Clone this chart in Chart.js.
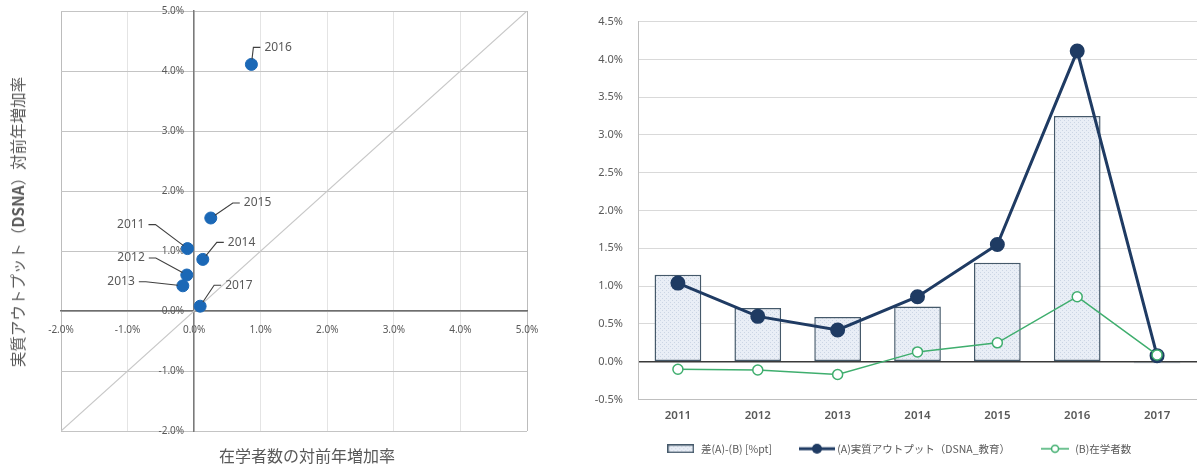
<!DOCTYPE html>
<html lang="ja">
<head>
<meta charset="UTF-8">
<title>在学者数と実質アウトプットの対前年増加率</title>
<script src="https://cdn.jsdelivr.net/npm/chart.js@4.4.1/dist/chart.umd.min.js"></script>
<style>
  body { margin: 0; background: #fff; width: 1197px; height: 466px; position: relative; overflow: hidden;
         font-family: "Noto Sans CJK JP", "Noto Sans", sans-serif; }
  .box { position: absolute; }
  .ttl { position: absolute; color: #595959; font-size: 15.5px; white-space: nowrap; transform: translate(-50%, -50%); }
</style>
</head>
<body>
<div class="box" style="left:0;top:0;width:560px;height:466px"><canvas id="scatter"></canvas></div>
<div class="ttl" style="left:17px;top:222px;transform:translate(-50%,-50%) rotate(-90deg)">実質アウトプット（<b>DSNA</b>）対前年増加率</div>
<div class="ttl" style="left:307px;top:455px;font-size:16px">在学者数の対前年増加率</div>
<div class="box" style="left:560px;top:0;width:637px;height:466px"><canvas id="combo"></canvas></div>

<script>
// growth rates, %
const years = ['2011', '2012', '2013', '2014', '2015', '2016', '2017'];
const outputGrowth = [1.04, 0.60, 0.42, 0.86, 1.55, 4.11, 0.08];    // (A) DSNA 教育
const enrollGrowth = [-0.10, -0.11, -0.17, 0.13, 0.25, 0.86, 0.09]; // (B) 在学者数
const gapPt = [1.15, 0.71, 0.59, 0.73, 1.31, 3.25, -0.02];          // (A)-(B), %pt
const scatterTicks = [-2, -1, 0, 1, 2, 3, 4, 5];
const comboTicks = [-0.5, 0, 0.5, 1, 1.5, 2, 2.5, 3, 3.5, 4, 4.5];
const diagonal = [-2, 5];

const pct = v => v.toFixed(1) + '%';
const grey = '#595959';
const font = '"Noto Sans", "Noto Sans CJK JP", sans-serif';

// where each year label sits relative to its point
const labelPos = {
  '2011': { dx: -43, dy: -24 },
  '2012': { dx: -42, dy: -17 },
  '2013': { dx: -48, dy: -4 },
  '2014': { dx: 25, dy: -17 },
  '2015': { dx: 33, dy: -15 },
  '2016': { dx: 13, dy: -17 },
  '2017': { dx: 25, dy: -21 }
};

const yearLabels = {
  id: 'yearLabels',
  afterDatasetsDraw(chart) {
    const meta = chart.getDatasetMeta(1);
    const ctx = chart.ctx;
    ctx.save();
    ctx.font = '12px ' + font;
    ctx.fillStyle = grey;
    ctx.strokeStyle = '#3f3f3f';
    ctx.lineWidth = 1.1;
    ctx.textBaseline = 'middle';
    meta.data.forEach((pt, i) => {
      const o = labelPos[years[i]];
      const tx = pt.x + o.dx, ty = pt.y + o.dy;
      const dir = o.dx < 0 ? -1 : 1;
      const sx = tx - dir * 4;
      const kx = sx - dir * 7;
      const ang = Math.atan2(ty - pt.y, kx - pt.x);
      ctx.beginPath();
      ctx.moveTo(sx, ty);
      ctx.lineTo(kx, ty);
      ctx.lineTo(pt.x + Math.cos(ang) * 5, pt.y + Math.sin(ang) * 5);
      ctx.stroke();
      ctx.textAlign = dir < 0 ? 'right' : 'left';
      ctx.fillText(years[i], tx, ty);
    });
    ctx.restore();
  }
};

new Chart(document.getElementById('scatter'), {
  type: 'scatter',
  data: {
    datasets: [
      {
        data: diagonal.map(v => ({ x: v, y: v })),
        showLine: true,
        borderColor: '#c8c8c8',
        borderWidth: 1.2,
        pointRadius: 0,
        order: 2
      },
      {
        data: years.map((y, i) => ({ x: enrollGrowth[i], y: outputGrowth[i] })),
        backgroundColor: '#1b68b6',
        borderColor: '#1b68b6',
        pointRadius: 6,
        order: 1
      }
    ]
  },
  options: {
    responsive: true,
    maintainAspectRatio: false,
    animation: false,
    layout: { autoPadding: false, padding: { left: 61, top: 11, right: 33, bottom: 35 } },
    plugins: { legend: { display: false }, tooltip: { enabled: false } },
    scales: {
      x: {
        type: 'linear', min: -2, max: 5, position: { y: 0 },
        afterBuildTicks: s => { s.ticks = scatterTicks.map(v => ({ value: v })); },
        ticks: { callback: pct, color: grey, font: { family: font, size: 10 }, padding: 13, maxRotation: 0 },
        grid: {
          drawTicks: false,
          color: c => (c.tick && (c.tick.value === -2 || c.tick.value === 5)) ? '#bcbcbc' : '#e4e4e4'
        },
        border: { color: '#6e6e6e', width: 1.5 }
      },
      y: {
        type: 'linear', min: -2, max: 5, position: { x: 0 },
        afterBuildTicks: s => { s.ticks = scatterTicks.map(v => ({ value: v })); },
        // labels sit left of the zero axis, keep a gap from the line
        ticks: { callback: v => pct(v) + '\u2002\u2002', color: grey, font: { family: font, size: 10 } },
        grid: { drawTicks: false, color: '#c4c4c4' },
        border: { color: '#7a7a7a', width: 1.5 }
      }
    }
  },
  plugins: [yearLabels]
});

// light dotted fill used for the gap bars
function dotFill(g) {
  const t = document.createElement('canvas');
  t.width = 4; t.height = 4;
  const c = t.getContext('2d');
  c.fillStyle = '#e9eef6';
  c.fillRect(0, 0, 4, 4);
  c.fillStyle = '#cbd5e4';
  c.fillRect(0, 0, 1, 1);
  c.fillRect(2, 2, 1, 1);
  return g.createPattern(t, 'repeat');
}

function icon(w, h, draw) {
  const c = document.createElement('canvas');
  c.width = w; c.height = h;
  draw(c.getContext('2d'), w, h);
  return c;
}

const barEdge = '#45596a', navy = '#1f3b63', green = '#3fae6e';

const legendIcons = [
  icon(27, 9, (g, w, h) => {
    g.fillStyle = dotFill(g);
    g.fillRect(1, 1, w - 2, h - 2);
    g.strokeStyle = barEdge; g.lineWidth = 1.5;
    g.strokeRect(0.75, 0.75, w - 1.5, h - 1.5);
  }),
  icon(36, 12, (g, w, h) => {
    g.strokeStyle = navy; g.lineWidth = 3;
    g.beginPath(); g.moveTo(0, h / 2); g.lineTo(w, h / 2); g.stroke();
    g.fillStyle = navy;
    g.beginPath(); g.arc(w / 2, h / 2, 5, 0, Math.PI * 2); g.fill();
  }),
  icon(28, 10, (g, w, h) => {
    g.strokeStyle = green; g.lineWidth = 1.5;
    g.beginPath(); g.moveTo(0, h / 2); g.lineTo(w, h / 2); g.stroke();
    g.fillStyle = '#fff';
    g.beginPath(); g.arc(w / 2, h / 2, 3.5, 0, Math.PI * 2); g.fill(); g.stroke();
  })
];

// nudge the legend row right and up under the plot
const legendShift = {
  id: 'legendShift',
  afterLayout(chart) {
    const lg = chart.legend;
    lg.left += 20; lg.right += 20;
    lg.top -= 6; lg.bottom -= 6;
  }
};

const comboCanvas = document.getElementById('combo');

new Chart(comboCanvas, {
  data: {
    labels: years,
    datasets: [
      {
        type: 'bar',
        label: '差(A)-(B) [%pt]',
        data: gapPt,
        backgroundColor: dotFill(comboCanvas.getContext('2d')),
        borderColor: barEdge,
        borderWidth: 1.5,
        borderSkipped: false,
        barPercentage: 0.585,
        categoryPercentage: 1,
        order: 3
      },
      {
        type: 'line',
        label: '(A)実質アウトプット（DSNA_教育）',
        data: outputGrowth,
        borderColor: navy,
        backgroundColor: navy,
        borderWidth: 3,
        pointRadius: 6,
        tension: 0,
        order: 2
      },
      {
        type: 'line',
        label: '(B)在学者数',
        data: enrollGrowth,
        borderColor: green,
        backgroundColor: '#fff',
        borderWidth: 1.5,
        pointRadius: 5,
        pointBorderWidth: 1.5,
        tension: 0,
        order: 1
      }
    ]
  },
  options: {
    responsive: true,
    maintainAspectRatio: false,
    animation: false,
    layout: { autoPadding: false, padding: { left: 0, top: 17, right: 0, bottom: -4 } },
    plugins: {
      tooltip: { enabled: false },
      legend: {
        position: 'bottom',
        labels: {
          usePointStyle: true,
          pointStyleWidth: 30,
          padding: 30,
          color: grey,
          font: { family: '"Noto Sans CJK JP", sans-serif', size: 10.5 },
          generateLabels: chart => chart.data.datasets.map((ds, i) => ({
            text: ds.label,
            pointStyle: legendIcons[i],
            fillStyle: 'transparent',
            strokeStyle: 'transparent',
            lineWidth: 0,
            fontColor: grey,
            hidden: false,
            datasetIndex: i
          }))
        }
      }
    },
    scales: {
      x: {
        grid: { display: false },
        border: { color: '#bfbfbf', width: 1 },
        ticks: { color: grey, font: { family: font, size: 11.5, weight: '600' }, padding: 1 },
        afterFit: s => { s.height = 20; }
      },
      y: {
        min: -0.5, max: 4.5,
        afterBuildTicks: s => { s.ticks = comboTicks.map(v => ({ value: v })); },
        ticks: { callback: pct, color: grey, font: { family: font, size: 11 }, padding: 15 },
        grid: {
          drawTicks: false,
          color: c => (c.tick && c.tick.value === 0) ? '#3a3a3a' : '#d9d9d9',
          lineWidth: c => (c.tick && c.tick.value === 0) ? 1.6 : 1
        },
        border: { color: '#bfbfbf', width: 1 },
        afterFit: s => { s.width = 78; }
      }
    }
  },
  plugins: [legendShift]
});
</script>
</body>
</html>
